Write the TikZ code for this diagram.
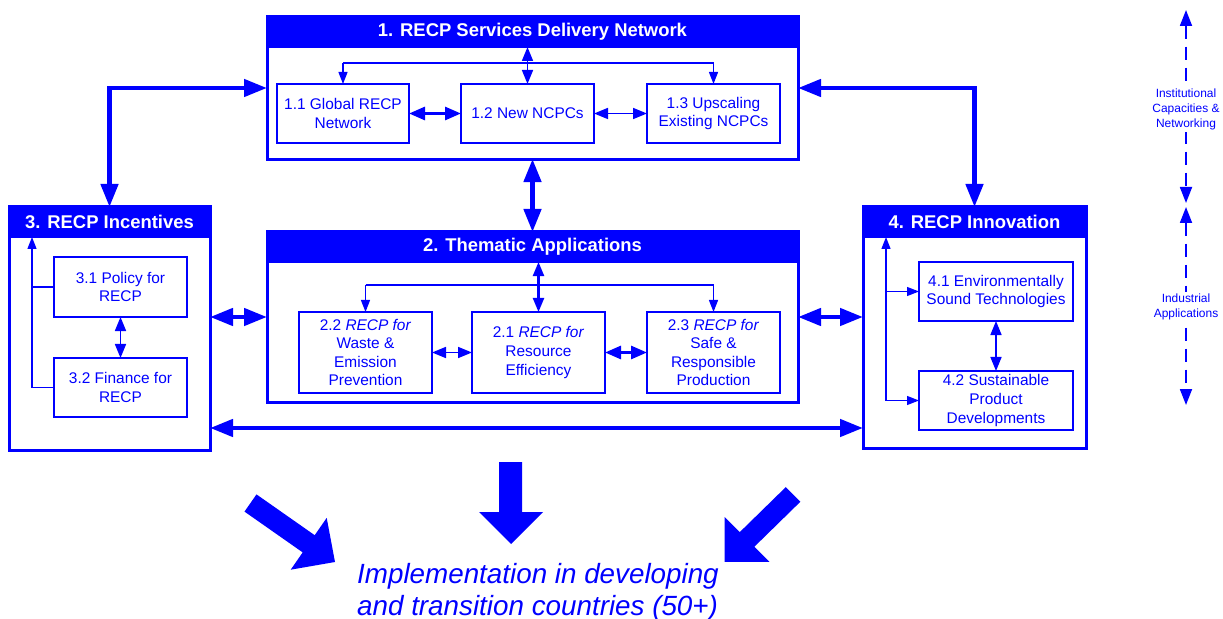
\documentclass[tikz,border=0pt]{standalone}
\usepackage{fontspec}
\setmainfont{Liberation Sans}
\usetikzlibrary{arrows.meta}
\begin{document}
\begin{tikzpicture}[x=1bp,y=-1bp,
  every node/.style={text=blue},
  outerbox/.style={draw=blue, line width=3bp, inner sep=0pt, outer sep=0pt, anchor=north west},
  hdr/.style={draw=blue, fill=blue, line width=3bp, inner sep=0pt, outer sep=0pt, anchor=north west, minimum height=30bp, text=white, font=\bfseries\fontsize{18.5}{22}\selectfont},
  subbox/.style={draw=blue, line width=1.3bp, inner sep=0pt, outer sep=0pt, align=center, font=\fontsize{15.5}{18.7}\selectfont},
  bigarrow/.style={draw=blue, line width=4.5bp, >={Triangle[length=23bp,width=17bp]}, <->},
  medarrow/.style={draw=blue, line width=2.8bp, >={Triangle[length=16bp,width=13bp]}, <->},
  thinarrow/.style={draw=blue, line width=1.6bp, >={Triangle[length=14bp,width=11bp]}, <->},
  fineline/.style={draw=blue, line width=1.3bp},
  finetip/.style={draw=blue, line width=1.3bp, >={Triangle[length=12bp,width=9bp]}, ->},
  legarrow/.style={draw=blue, line width=1.8bp, dash pattern=on 13bp off 8bp, >={Triangle[length=16bp,width=12bp]}, <->},
  legtext/.style={fill=white, inner sep=2bp, align=center, font=\fontsize{12}{15}\selectfont}
]
\useasboundingbox (0,0) rectangle (1223,619);

% ---------- Box 1
\node[outerbox, minimum width=531bp, minimum height=142bp] (B1) at (267,17) {};
\node[hdr, minimum width=531bp] (B1h) at (267,17) {1. RECP Services Delivery Network};
\node[subbox, minimum width=132bp, minimum height=59bp] (S11) at (343,113.5) {1.1 Global RECP\\Network};
\node[subbox, minimum width=133bp, minimum height=59bp] (S12) at (527.5,113.5) {1.2 New NCPCs};
\node[subbox, minimum width=133bp, minimum height=59bp] (S13) at (713.5,113.5) {1.3 Upscaling\\Existing NCPCs};

% ---------- Box 2
\node[outerbox, minimum width=531bp, minimum height=170bp] (B2) at (267,232) {};
\node[hdr, minimum width=531bp] (B2h) at (267,232) {2. Thematic Applications};
\node[subbox, minimum width=133bp, minimum height=81bp] (S22) at (365.5,352.5) {2.2 \textit{RECP for}\\Waste \&\\Emission\\Prevention};
\node[subbox, minimum width=133bp, minimum height=81bp] (S21) at (538.5,352.5) {2.1 \textit{RECP for}\\Resource\\Efficiency};
\node[subbox, minimum width=133bp, minimum height=81bp] (S23) at (713.5,352.5) {2.3 \textit{RECP for}\\Safe \&\\Responsible\\Production};

% ---------- Box 3
\node[outerbox, minimum width=201bp, minimum height=243bp] (B3) at (9,207) {};
\node[hdr, minimum width=201bp] (B3h) at (9,207) {3. RECP Incentives};
\node[subbox, minimum width=133bp, minimum height=60bp] (S31) at (120.5,287) {3.1 Policy for\\RECP};
\node[subbox, minimum width=133bp, minimum height=59bp] (S32) at (120.5,387.5) {3.2 Finance for\\RECP};

% ---------- Box 4
\node[outerbox, minimum width=223bp, minimum height=241bp] (B4) at (863,207) {};
\node[hdr, minimum width=223bp] (B4h) at (863,207) {4. RECP Innovation};
\node[subbox, minimum width=154bp, minimum height=59bp] (S41) at (996,291.5) {4.1 Environmentally\\Sound Technologies};
\node[subbox, minimum width=154bp, minimum height=59bp] (S42) at (996,400.5) {4.2 Sustainable\\Product\\Developments};

% ---------- helper coordinates
\coordinate (yA) at (0,63);
\coordinate (yB) at (0,285);
\coordinate (yC) at (0,428);
\coordinate (x32) at (32,0);
\coordinate (x886) at (886,0);

% ---------- main connectors
\draw[bigarrow] (B3h.north) |- (B1.west);
\draw[bigarrow] (B1.east) -| (B4h.north);
\draw[bigarrow] (B1.south) -- (B2h.north);
\draw[bigarrow] (B2.west -| B3.east) -- (B2.west);
\draw[bigarrow] (B2.east) -- (B2.east -| B4.west);
\draw[bigarrow] (yC -| B3.east) -- (yC -| B4.west);

% ---------- box 1 inner
\draw[fineline] (yA -| S11.north) -- (yA -| S13.north);
\draw[finetip] (yA -| S11.north) -- (S11.north);
\draw[finetip] (yA -| S13.north) -- (S13.north);
\draw[thinarrow] (B1h.south -| S12.north) -- (S12.north);
\draw[medarrow] (S11.east) -- (S12.west);
\draw[thinarrow] (S12.east) -- (S13.west);

% ---------- box 2 inner
\draw[fineline] (yB -| S22.north) -- (yB -| S23.north);
\draw[finetip] (yB -| S22.north) -- (S22.north);
\draw[finetip] (yB -| S23.north) -- (S23.north);
\draw[thinarrow, line width=2.2bp] (B2h.south -| S21.north) -- (S21.north);
\draw[thinarrow] (S22.east) -- (S21.west);
\draw[medarrow] (S21.east) -- (S23.west);

% ---------- box 3 inner
\draw[fineline] (x32 |- S31.west) -- (S31.west);
\draw[fineline] (x32 |- S32.west) -- (S32.west);
\draw[finetip] (x32 |- S32.west) -- (x32 |- B3h.south);
\draw[thinarrow] (S31.south) -- (S32.north);

% ---------- box 4 inner
\draw[finetip] (x886 |- S42.west) -- (x886 |- B4h.south);
\draw[finetip] (x886 |- S41.west) -- (S41.west);
\draw[finetip] (x886 |- S42.west) -- (S42.west);
\draw[thinarrow] (S41.south) -- (S42.north);

% ---------- legend
\coordinate (L0) at (1186,10);
\coordinate (L1) at (1186,203);
\coordinate (L2) at (1186,207);
\coordinate (L3) at (1186,405);
\draw[legarrow] (L0) -- (L1);
\draw[legarrow] (L2) -- (L3);
\node[legtext] (T1) at (1186,109.5) {Institutional\\Capacities \&\\Networking};
\node[legtext] (T2) at (1186,307) {Industrial\\Applications};

% ---------- bottom block arrows
\fill[blue] (499,462) -- (522,462) -- (522,512) -- (543,512) -- (511,544) -- (479,512) -- (499,512) -- cycle;
\fill[blue] (256.5,494.4) -- (314.7,535.2) -- (326.7,517.9) -- (335,562) -- (290.7,569.7) -- (302.7,552.4) -- (244.5,511.6) -- cycle;
\fill[blue] (800.3,501.8) -- (754.3,546.8) -- (769.3,561.8) -- (724.7,561.8) -- (724.7,517.2) -- (739.7,532.2) -- (785.7,487.2) -- cycle;

\node[anchor=west, align=left, inner sep=0pt, font=\itshape\fontsize{27.9}{32.5}\selectfont] (impl) at (357,592) {Implementation in developing\\and transition countries (50+)};
\end{tikzpicture}
\end{document}
